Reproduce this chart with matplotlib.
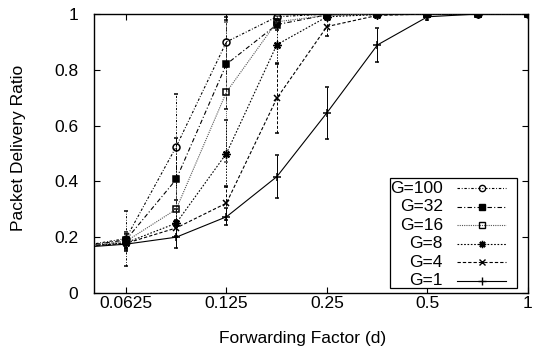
import matplotlib
matplotlib.use("Agg")
import matplotlib.pyplot as plt
from matplotlib.lines import Line2D
from matplotlib.patches import Rectangle

plt.rcParams['font.family'] = ['Liberation Sans', 'DejaVu Sans']

# ---------------- data ----------------
x = [0.0442, 0.0625, 0.0884, 0.125, 0.177, 0.25, 0.354, 0.5, 0.707, 1.0]

labels = ["G=100", "G=32", "G=16", "G=8", "G=4", "G=1"]

g100 = [0.165, 0.195, 0.524, 0.900, 0.990, 1.000, 1.000, 1.000, 1.000, 1.000]
g32 = [0.165, 0.190, 0.407, 0.820, 0.962, 0.997, 1.000, 1.000, 1.000, 1.000]
g16 = [0.165, 0.185, 0.300, 0.720, 0.972, 0.995, 1.000, 1.000, 1.000, 1.000]
g8 = [0.165, 0.180, 0.250, 0.500, 0.890, 0.990, 0.998, 1.000, 1.000, 1.000]
g4 = [0.165, 0.178, 0.233, 0.322, 0.698, 0.955, 0.995, 1.000, 1.000, 1.000]
g1 = [0.162, 0.175, 0.200, 0.273, 0.417, 0.646, 0.889, 0.990, 1.000, 1.000]

g100_err = [0.0, 0.100, 0.190, 0.090, 0.010, 0.0, 0.0, 0.0, 0.0, 0.0]
g32_err = [0.0, 0.030, 0.150, 0.160, 0.020, 0.003, 0.0, 0.0, 0.0, 0.0]
g16_err = [0.0, 0.030, 0.100, 0.250, 0.020, 0.005, 0.0, 0.0, 0.0, 0.0]
g8_err = [0.0, 0.030, 0.050, 0.120, 0.070, 0.010, 0.002, 0.0, 0.0, 0.0]
g4_err = [0.0, 0.020, 0.030, 0.060, 0.125, 0.035, 0.005, 0.0, 0.0, 0.0]
g1_err = [0.0, 0.012, 0.037, 0.030, 0.077, 0.094, 0.060, 0.012, 0.0, 0.0]

series = [g100, g32, g16, g8, g4, g1]
errors = [g100_err, g32_err, g16_err, g8_err, g4_err, g1_err]

xticks = [0.0625, 0.125, 0.25, 0.5, 1.0]
xticklabels = ["0.0625", "0.125", "0.25", "0.5", "1"]
yticks = [0, 0.2, 0.4, 0.6, 0.8, 1.0]
yticklabels = ["0", "0.2", "0.4", "0.6", "0.8", "1"]

# ---------------- styles ----------------
styles = [
    dict(ls=(0, (2.2, 1.6, 0.8, 1.6)), marker='o', mfc='none', ms=5.0, lw=0.8, color='black'),
    dict(ls=(0, (4, 2, 1, 2)), marker='s', mfc='black', ms=4.6, lw=0.8, color='black'),
    dict(ls=(0, (1, 1)), marker='s', mfc='none', ms=4.6, lw=0.8, color='#555555'),
    dict(ls=(0, (1.5, 1.5)), marker=(8, 2, 0), mfc='none', ms=5.8, lw=0.8, color='black'),
    dict(ls=(0, (3, 1.8)), marker='x', mfc='none', ms=5.0, lw=0.8, color='black'),
    dict(ls='-', marker='+', mfc='none', ms=6.2, lw=0.8, color='black'),
]

fig = plt.figure(figsize=(5.34, 3.49), dpi=100)
ax = fig.add_axes([93.5 / 534, 1 - 293 / 349, (528 - 93.5) / 534, (293 - 14) / 349])

for ys, es, st in zip(series, errors, styles):
    cont = ax.errorbar(x, ys, yerr=es, linestyle=st['ls'], color=st['color'],
                       lw=st['lw'], marker=st['marker'], mfc=st['mfc'],
                       mec='black', mew=1.1, ms=st['ms'],
                       elinewidth=0.7, ecolor=st['color'], capsize=1.6,
                       capthick=0.7, zorder=3)
    for bc in cont[2]:
        bc.set_linestyle(st['ls'])

ax.set_xscale('log', base=2)
ax.set_xlim(0.05, 1.0)
ax.set_ylim(0, 1)
ax.set_xticks(xticks)
ax.set_xticklabels(xticklabels)
ax.set_yticks(yticks)
ax.set_yticklabels(yticklabels)
ax.minorticks_off()

ax.tick_params(axis='both', which='major', direction='in', length=4, width=0.8,
               top=True, right=True, labelsize=12.5, colors='black')
ax.tick_params(axis='y', pad=11)
ax.tick_params(axis='x', pad=2.5)
for sp in ax.spines.values():
    sp.set_linewidth(1.0)

ax.set_xlabel("Forwarding Factor (d)", fontsize=12.5)
ax.set_ylabel("Packet Delivery Ratio", fontsize=12.5)
ax.xaxis.set_label_coords((303 - 93.5) / 434.5, (293 - 339) / 279)
ax.yaxis.set_label_coords((19 - 93.5) / 434.5, (293 - 147.5) / 279)
ax.xaxis.label.set_va('center')
ax.yaxis.label.set_va('center')

# ---------------- gnuplot-style key ----------------
def ax_x(px):
    return (px - 93.5) / 434.5

def ax_y(py):
    return (293 - py) / 279

box = Rectangle((ax_x(390), ax_y(287.5)), ax_x(517) - ax_x(390), ax_y(178) - ax_y(287.5),
                transform=ax.transAxes, facecolor='white', edgecolor='black', lw=0.9, zorder=5)
ax.add_patch(box)
for i, (lab, st) in enumerate(zip(labels, styles)):
    yy = ax_y(188.3 + 18.5 * i)
    ax.text(ax_x(443), yy, lab, transform=ax.transAxes, ha='right', va='center',
            fontsize=12.5, zorder=6)
    ax.add_line(Line2D([ax_x(457), ax_x(506)], [yy, yy], transform=ax.transAxes,
                       linestyle=st['ls'], color=st['color'], lw=st['lw'], zorder=6))
    ax.add_line(Line2D([ax_x(481.5)], [yy], transform=ax.transAxes, linestyle='none',
                       marker=st['marker'], mfc=st['mfc'], mec='black', mew=1.0,
                       ms=st['ms'] * 0.9, zorder=7))

fig.savefig("out.png", dpi=100)
